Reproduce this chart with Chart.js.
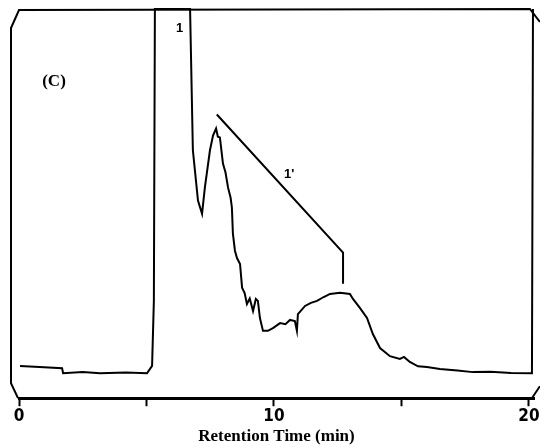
<!DOCTYPE html>
<html>
<head>
<meta charset="utf-8">
<script src="https://cdn.jsdelivr.net/npm/chart.js@4/dist/chart.umd.min.js"></script>
<style>
html,body{margin:0;padding:0;background:#fff;}
#wrap{width:540px;height:447px;position:relative;}
</style>
</head>
<body>
<div id="wrap"><canvas id="c" width="540" height="447"></canvas></div>
<script>
// Chromatogram trace (retention time in min, relative detector signal 0-100, 100 = full scale)
const traceTime = [0.04,0.8,1.69,1.73,2.5,3.18,4.2,5.02,5.22,5.29,5.33,6.71,6.82,7.02,7.18,7.29,7.49,7.61,7.73,7.80,7.88,8.00,8.10,8.20,8.30,8.35,8.39,8.47,8.55,8.67,8.75,8.85,8.94,9.05,9.18,9.29,9.37,9.45,9.57,9.76,9.96,10.24,10.45,10.63,10.82,10.90,10.94,11.22,11.45,11.69,11.95,12.20,12.59,12.98,13.10,13.37,13.65,13.88,14.16,14.55,14.94,15.10,15.33,15.65,16.0,16.51,17.2,17.80,18.5,19.3,20.12,20.16];
const traceSignal = [8.3,8.0,7.7,6.4,6.7,6.4,6.6,6.4,8.3,25.0,100,100,63.7,50.8,47.4,54.1,63.7,67.5,69.3,67.2,67.0,60.3,58.0,54.1,51.5,49.0,42.3,37.9,36.0,34.5,28.4,27.0,24.2,25.6,22.4,25.5,25.0,20.6,17.3,17.3,18.0,19.3,19.0,20.1,19.8,17.3,21.6,23.7,24.5,25.0,26.0,26.8,27.1,26.8,25.5,23.2,20.6,16.5,12.9,10.8,10.1,10.6,9.3,8.2,8.0,7.5,7.1,6.7,6.8,6.5,6.4,100];
// Peak 1' marker line
const markerTime = [7.76,12.71,12.71];
const markerSignal = [72.9,37.4,29.4];
// Axis ticks
const tickValues = [0,5,10,15,20];
const tickLabels = {0:'0',10:'10',20:'20'};
// Text labels: [time, signal, text]
const peakLabels = [[6.3,95,'1'],[10.6,57.5,"1'"]];
const panelLabel = '(C)';
const axisTitle = 'Retention Time (min)';

const toPts = (xs, ys) => xs.map((x, i) => ({x, y: ys[i]}));

const decor = {
  id: 'decor',
  afterDraw(chart) {
    const {ctx, chartArea: a, scales: {x, y}} = chart;
    const x0 = x.getPixelForValue(0), x20 = x.getPixelForValue(20);
    ctx.save();
    // scanned frame outline
    ctx.strokeStyle = '#000';
    ctx.lineWidth = 2;
    ctx.beginPath();
    ctx.moveTo(x0 - 1, a.bottom);
    ctx.lineTo(x0 - 8, a.bottom - 15);
    ctx.lineTo(x0 - 8, a.top + 19);
    ctx.lineTo(x0, a.top + 1);
    ctx.lineTo(x20 + 1, a.top);
    ctx.lineTo(x20 + 11, a.top + 13);
    ctx.stroke();
    ctx.beginPath();
    ctx.moveTo(x20 + 11, a.bottom - 12);
    ctx.lineTo(x20 + 3, a.bottom);
    ctx.stroke();
    // labels
    ctx.fillStyle = '#000';
    ctx.textAlign = 'center';
    ctx.textBaseline = 'middle';
    ctx.font = 'bold 17px "Liberation Serif", "DejaVu Serif", serif';
    ctx.fillText(panelLabel, x0 + 35, a.top + 73);
    ctx.font = 'bold 13px "Liberation Sans", Arial, sans-serif';
    peakLabels.forEach(([t, s, txt]) => {
      ctx.fillText(txt, x.getPixelForValue(t), y.getPixelForValue(s));
    });
    ctx.restore();
  }
};

new Chart(document.getElementById('c'), {
  type: 'scatter',
  data: {
    datasets: [
      {data: toPts(traceTime, traceSignal), showLine: true, borderColor: '#000', borderWidth: 2, pointRadius: 0, tension: 0, clip: false},
      {data: toPts(markerTime, markerSignal), showLine: true, borderColor: '#000', borderWidth: 2, pointRadius: 0, tension: 0, clip: false}
    ]
  },
  options: {
    responsive: false,
    animation: false,
    events: [],
    layout: {padding: {left: 19, right: 6, top: 9, bottom: 0}},
    plugins: {legend: {display: false}, tooltip: {enabled: false}},
    scales: {
      x: {
        type: 'linear', min: 0, max: 20.2,
        afterBuildTicks: (s) => { s.ticks = tickValues.map(v => ({value: v})); },
        ticks: {
          autoSkip: false, maxRotation: 0, padding: 0, color: '#000',
          font: {family: '"Liberation Sans Narrow", "DejaVu Sans Condensed", sans-serif', size: 17, weight: 'bold'},
          callback: (v) => tickLabels[v] || ''
        },
        grid: {drawOnChartArea: false, drawTicks: true, tickLength: 8, tickWidth: 2, color: '#000'},
        border: {display: true, color: '#000', width: 3},
        title: {display: true, text: axisTitle, color: '#000', padding: {top: 0, bottom: 0},
          font: {family: '"Liberation Serif", "DejaVu Serif", serif', size: 17, weight: 'bold'}}
      },
      y: {type: 'linear', min: 0, max: 100, display: false}
    }
  },
  plugins: [decor]
});
</script>
</body>
</html>
